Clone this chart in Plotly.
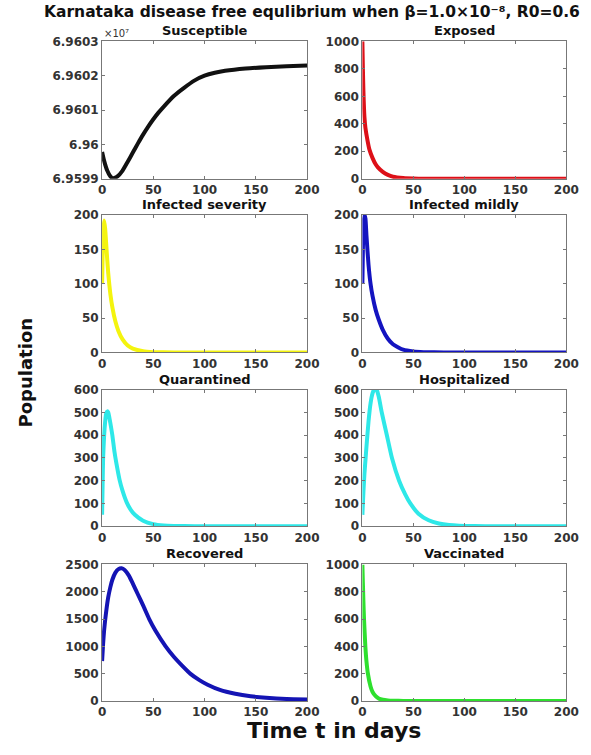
import plotly.graph_objects as go
from plotly.subplots import make_subplots

# ---- model output (days, population) ----
t_S = [0, 2, 5, 8, 10, 12, 15, 20, 25, 30, 35, 40, 45, 50, 55, 60, 70, 80, 90, 100, 110, 120, 140,
       160, 180, 200]
S = [69599781, 69599520, 69599238, 69599070, 69599019, 69599025, 69599067, 69599238, 69599495,
     69599762, 69600030, 69600286, 69600520, 69600733, 69600925, 69601095, 69601410, 69601648,
     69601857, 69602000, 69602085, 69602143, 69602210, 69602248, 69602276, 69602295]

t_E = [0, 0.5, 1, 2, 3, 5, 7, 10, 13, 15, 20, 25, 30, 40, 50, 60, 80, 120, 200]
E = [1000, 800, 640, 450, 370, 280, 210, 150, 105, 85, 50, 28, 15, 5, 1.5, 0.5, 0, 0, 0]

t_Is = [0, 0.5, 1, 2, 3, 4, 5, 6, 8, 10, 13, 16, 20, 25, 30, 40, 50, 60, 80, 120, 200]
Is = [100, 140, 175, 192, 180, 158, 135, 115, 86, 66, 45, 31, 19, 10, 5.5, 1.7, 0.5, 0.15, 0, 0, 0]

t_Im = [0, 0.5, 1, 2, 3, 4, 5, 6, 8, 10, 13, 16, 20, 25, 30, 40, 50, 60, 80, 120, 200]
Im = [100, 150, 185, 200, 195, 170, 148, 128, 100, 82, 62, 48, 33, 20, 12, 4, 1.3, 0.4, 0, 0, 0]

t_Q = [0, 0.5, 1, 2, 3, 4, 5, 6, 7, 8, 10, 12, 14, 17, 20, 24, 28, 32, 40, 50, 60, 70, 80, 100, 200]
Q = [50, 180, 300, 400, 460, 495, 505, 500, 480, 455, 400, 330, 275, 205, 155, 105, 72, 50, 24, 9,
     3, 1, 0.3, 0, 0]

t_H = [0, 1, 2, 3, 4, 6, 8, 10, 12, 14, 16, 19, 24, 29, 36, 42, 47, 55, 65, 75, 85, 95, 110, 130, 200]
H = [50, 150, 230, 290, 350, 460, 540, 585, 605, 600, 570, 500, 400, 300, 200, 140, 100, 55, 26, 12,
     5, 2, 0.5, 0.1, 0]

t_R = [0, 1, 2, 3, 4, 6, 8, 10, 13, 16, 19, 22, 26, 30, 35, 40, 46, 52, 62, 70, 80, 86, 95, 103, 115,
       130, 145, 160, 180, 200]
R = [730, 1050, 1300, 1480, 1640, 1900, 2080, 2220, 2350, 2415, 2430, 2400, 2300, 2150, 1950, 1750,
     1500, 1290, 1000, 810, 610, 500, 380, 295, 200, 130, 85, 57, 35, 25]

t_V = [0, 0.5, 1, 1.6, 2.9, 4, 5.4, 8, 10, 13, 16, 20, 25, 30, 40, 200]
V = [1000, 860, 730, 600, 400, 290, 200, 105, 65, 35, 18, 8, 3, 1, 0, 0]

panels = [
    ("Susceptible", t_S, S, "#111111", [69599000, 69603000], None),
    ("Exposed", t_E, E, "#dd1018", [0, 1000], 200),
    ("Infected severity", t_Is, Is, "#f4f40e", [0, 200], 50),
    ("Infected mildly", t_Im, Im, "#1414c0", [0, 200], 50),
    ("Quarantined", t_Q, Q, "#2ee8e8", [0, 600], 100),
    ("Hospitalized", t_H, H, "#2ee8e8", [0, 600], 100),
    ("Recovered", t_R, R, "#1414b4", [0, 2500], 500),
    ("Vaccinated", t_V, V, "#2ee02e", [0, 1000], 200),
]

W, Hpx = 591, 755
col_px = [(101, 312), (369, 579)]
row_px = [(35, 175), (212, 352), (390, 529), (568, 707)]

FONT = "DejaVu Sans"
tickfont = dict(family=FONT, size=12, color="#333333", weight="bold")

fig = make_subplots(rows=4, cols=2)

for i, (name, tx, ty, color, yr, dt) in enumerate(panels):
    r, c = i // 2, i % 2
    fig.add_trace(go.Scatter(x=tx, y=ty, mode="lines",
                             line=dict(color=color, width=4, shape="spline", smoothing=0.5),
                             showlegend=False), row=r + 1, col=c + 1)
    x0, x1 = col_px[c]
    y0, y1 = row_px[r]
    n = i + 1
    xa = "xaxis" if n == 1 else f"xaxis{n}"
    ya = "yaxis" if n == 1 else f"yaxis{n}"
    axis_common = dict(showline=True, linecolor="#777777", linewidth=1, mirror="ticks",
                       ticks="inside", ticklen=3, tickcolor="#777777", showgrid=False,
                       zeroline=False, tickfont=tickfont)
    fig.layout[xa].update(domain=[x0 / W, x1 / W], range=[0, 200], tickvals=[0, 50, 100, 150, 200],
                          **axis_common)
    if dt is None:
        fig.layout[ya].update(domain=[1 - y1 / Hpx, 1 - y0 / Hpx], range=yr,
                              tickvals=[69599000, 69600000, 69601000, 69602000, 69603000],
                              ticktext=["6.9599", "6.96", "6.9601", "6.9602", "6.9603"],
                              **axis_common)
    else:
        fig.layout[ya].update(domain=[1 - y1 / Hpx, 1 - y0 / Hpx], range=yr, dtick=dt, tick0=0,
                              **axis_common)
    fig.add_annotation(text=f"<b>{name}</b>", xref="paper", yref="paper",
                       x=(x0 + x1) / 2 / W, y=1 - y0 / Hpx, xanchor="center", yanchor="bottom",
                       yshift=2, showarrow=False, borderpad=0,
                       font=dict(family=FONT, size=13, color="#111111"))

# exponent for the susceptible axis
fig.add_annotation(text="×10⁷", xref="paper", yref="paper", x=102 / W, y=1 - 34 / Hpx,
                   xanchor="left", yanchor="bottom", showarrow=False, borderpad=0,
                   font=dict(family=FONT, size=10, color="#333333"))

# main title, shared axis labels
fig.add_annotation(text="<b>Karnataka disease free equlibrium when β=1.0×10⁻⁸, R0=0.6</b>",
                   xref="paper", yref="paper", x=40 / W, y=1, xanchor="left", borderpad=0,
                   yanchor="top", yshift=5, showarrow=False,
                   font=dict(family=FONT, size=15.5, color="#111111"))
fig.add_annotation(text="<b>Population</b>", xref="paper", yref="paper", x=22 / W, y=1 - 372 / Hpx,
                   xanchor="center", yanchor="middle", textangle=-90, showarrow=False,
                   font=dict(family=FONT, size=18, color="#111111"))
fig.add_annotation(text="<b>Time t in days</b>", xref="paper", yref="paper", x=340 / W,
                   y=1 - 737 / Hpx, xanchor="center", yanchor="middle", showarrow=False,
                   font=dict(family=FONT, size=22, color="#111111"))

fig.update_layout(width=W, height=Hpx, margin=dict(l=0, r=0, t=0, b=0),
                  paper_bgcolor="white", plot_bgcolor="white")

fig.write_html("out.html")
